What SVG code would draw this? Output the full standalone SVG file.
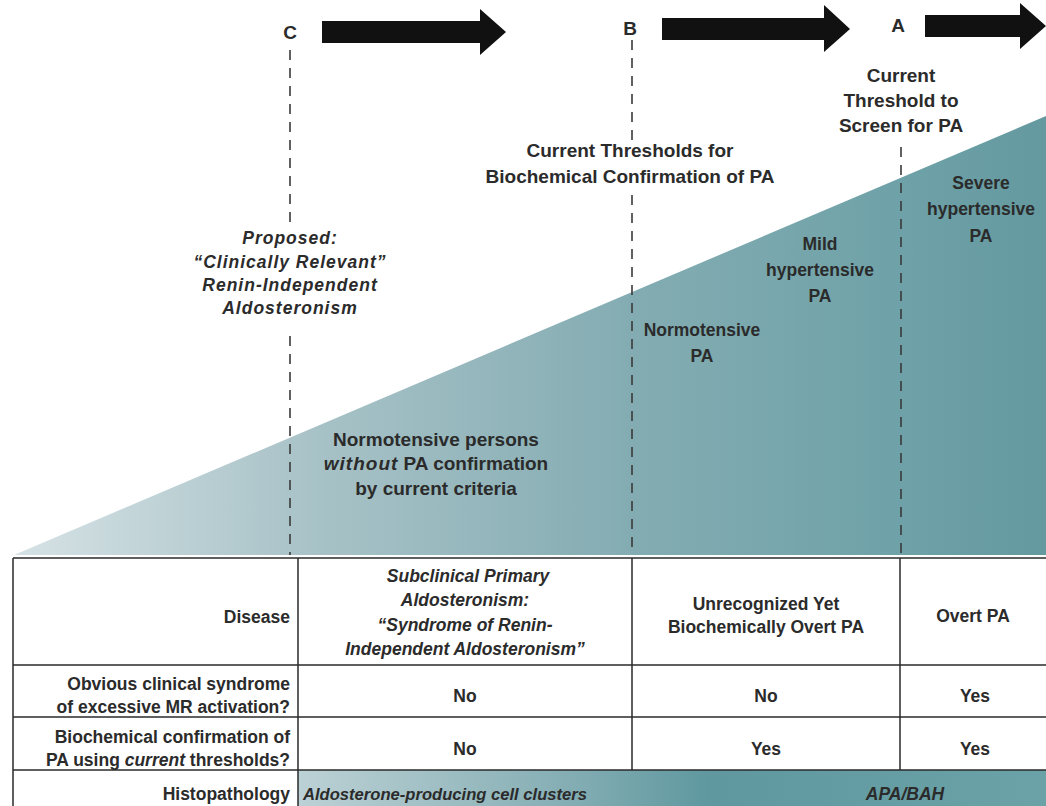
<svg xmlns="http://www.w3.org/2000/svg" width="1046" height="806" viewBox="0 0 1046 806">
  <defs>
    <linearGradient id="tri" x1="14" y1="0" x2="1046" y2="0" gradientUnits="userSpaceOnUse">
      <stop offset="0" stop-color="#d6e2e5"/>
      <stop offset="0.28" stop-color="#a9c3c8"/>
      <stop offset="0.6" stop-color="#83acb2"/>
      <stop offset="0.86" stop-color="#6ea2a8"/>
      <stop offset="1" stop-color="#64999f"/>
    </linearGradient>
    <linearGradient id="histo" x1="298" y1="0" x2="1046" y2="0" gradientUnits="userSpaceOnUse">
      <stop offset="0" stop-color="#bcd1d5"/>
      <stop offset="0.35" stop-color="#86afb5"/>
      <stop offset="0.55" stop-color="#5f989f"/>
      <stop offset="1" stop-color="#6aa2a7"/>
    </linearGradient>
    <style>
      .t { font-family: "Liberation Sans", Arial, sans-serif; font-size: 17.5px; font-weight: bold; fill: #2b2b2b; }
      .big { font-size: 19px; }
      .sm { font-size: 16.6px; }
      .bi { font-style: italic; }
      .sp { letter-spacing: 1px; }
      .c { text-anchor: middle; }
      .r { text-anchor: end; }
      .dash { stroke: #3a3a3a; stroke-width: 1.6; stroke-dasharray: 10 8; fill: none; }
      .grid { stroke: #2a2a2a; stroke-width: 1.5; fill: none; }
      .arrow { fill: #111; }
    </style>
  </defs>

  <rect width="1046" height="806" fill="#ffffff"/>

  <g id="triangle">
    <polygon points="14,555 1046,116 1046,555" fill="url(#tri)"/>
  </g>

  <g id="connectors">
    <line class="dash" x1="290" y1="50" x2="290" y2="222"/>
    <line class="dash" x1="290" y1="336" x2="290" y2="555"/>
    <line class="dash" x1="632" y1="40" x2="632" y2="140"/>
    <line class="dash" x1="632" y1="195" x2="632" y2="555"/>
    <line class="dash" x1="901" y1="147" x2="901" y2="555"/>
    <polygon class="arrow" points="322,21 480,21 480,9 506,32 480,55 480,43 322,43"/>
    <polygon class="arrow" points="662,18 824,18 824,5 850,29 824,52 824,40 662,40"/>
    <polygon class="arrow" points="925,15 1020,15 1020,3 1046,26 1020,49 1020,37 925,37"/>
  </g>

  <g id="label-C"><text class="t c big" x="290" y="39">C</text></g>
  <g id="label-B"><text class="t c big" x="630" y="35">B</text></g>
  <g id="label-A"><text class="t c big" x="898" y="32">A</text></g>

  <g id="screen-threshold">
    <text class="t c big" x="901" y="82">Current</text>
    <text class="t c big" x="901" y="107">Threshold to</text>
    <text class="t c big" x="901" y="132">Screen for PA</text>
  </g>

  <g id="confirm-threshold">
    <text class="t c big" x="630" y="157">Current Thresholds for</text>
    <text class="t c big" x="630" y="183">Biochemical Confirmation of PA</text>
  </g>

  <g id="proposed">
    <text class="t c bi sp" x="290" y="244">Proposed:</text>
    <text class="t c bi sp" x="290" y="268">“Clinically Relevant”</text>
    <text class="t c bi sp" x="290" y="291">Renin-Independent</text>
    <text class="t c bi sp" x="290" y="314">Aldosteronism</text>
  </g>

  <g id="normotensive-pa">
    <text class="t c" x="702" y="336">Normotensive</text>
    <text class="t c" x="702" y="362">PA</text>
  </g>

  <g id="mild-pa">
    <text class="t c" x="820" y="250">Mild</text>
    <text class="t c" x="820" y="276">hypertensive</text>
    <text class="t c" x="820" y="302">PA</text>
  </g>

  <g id="severe-pa">
    <text class="t c" x="981" y="189">Severe</text>
    <text class="t c" x="981" y="215">hypertensive</text>
    <text class="t c" x="981" y="242">PA</text>
  </g>

  <g id="normotensive-persons">
    <text class="t c big" x="436" y="446">Normotensive persons</text>
    <text class="t c big" x="436" y="470"><tspan class="bi sp">without</tspan> PA confirmation</text>
    <text class="t c big" x="436" y="495">by current criteria</text>
  </g>

  <g id="table">
    <rect x="298" y="770" width="750" height="36" fill="url(#histo)"/>
    <line class="grid" x1="13" y1="558" x2="1046" y2="558" stroke-width="2"/>
    <line class="grid" x1="13" y1="665" x2="1046" y2="665"/>
    <line class="grid" x1="13" y1="717" x2="1046" y2="717"/>
    <line class="grid" x1="13" y1="770" x2="1046" y2="770" stroke="#555" stroke-width="2"/>
    <line class="grid" x1="13" y1="558" x2="13" y2="806"/>
    <line class="grid" x1="298" y1="558" x2="298" y2="806"/>
    <line class="grid" x1="632" y1="558" x2="632" y2="770"/>
    <line class="grid" x1="900" y1="558" x2="900" y2="770"/>

    <text class="t r" x="290" y="623">Disease</text>
    <text class="t c bi" x="468" y="582">Subclinical Primary</text>
    <text class="t c bi" x="465" y="606">Aldosteronism:</text>
    <text class="t c bi" x="465" y="631">“Syndrome of Renin-</text>
    <text class="t c bi" x="465" y="655">Independent Aldosteronism”</text>
    <text class="t c" x="766" y="610">Unrecognized Yet</text>
    <text class="t c" x="766" y="633">Biochemically Overt PA</text>
    <text class="t c" x="973" y="622">Overt PA</text>

    <text class="t r" x="290" y="690">Obvious clinical syndrome</text>
    <text class="t r" x="290" y="713">of excessive MR activation?</text>
    <text class="t c" x="465" y="702">No</text>
    <text class="t c" x="766" y="702">No</text>
    <text class="t c" x="975" y="702">Yes</text>

    <text class="t r" x="290" y="743">Biochemical confirmation of</text>
    <text class="t r" x="290" y="766">PA using <tspan class="bi">current</tspan> thresholds?</text>
    <text class="t c" x="465" y="755">No</text>
    <text class="t c" x="766" y="755">Yes</text>
    <text class="t c" x="975" y="755">Yes</text>

    <text class="t r" x="290" y="800">Histopathology</text>
    <text class="t bi sm" x="303" y="800">Aldosterone-producing cell clusters</text>
    <text class="t c bi" x="905" y="800">APA/BAH</text>
  </g>
</svg>
